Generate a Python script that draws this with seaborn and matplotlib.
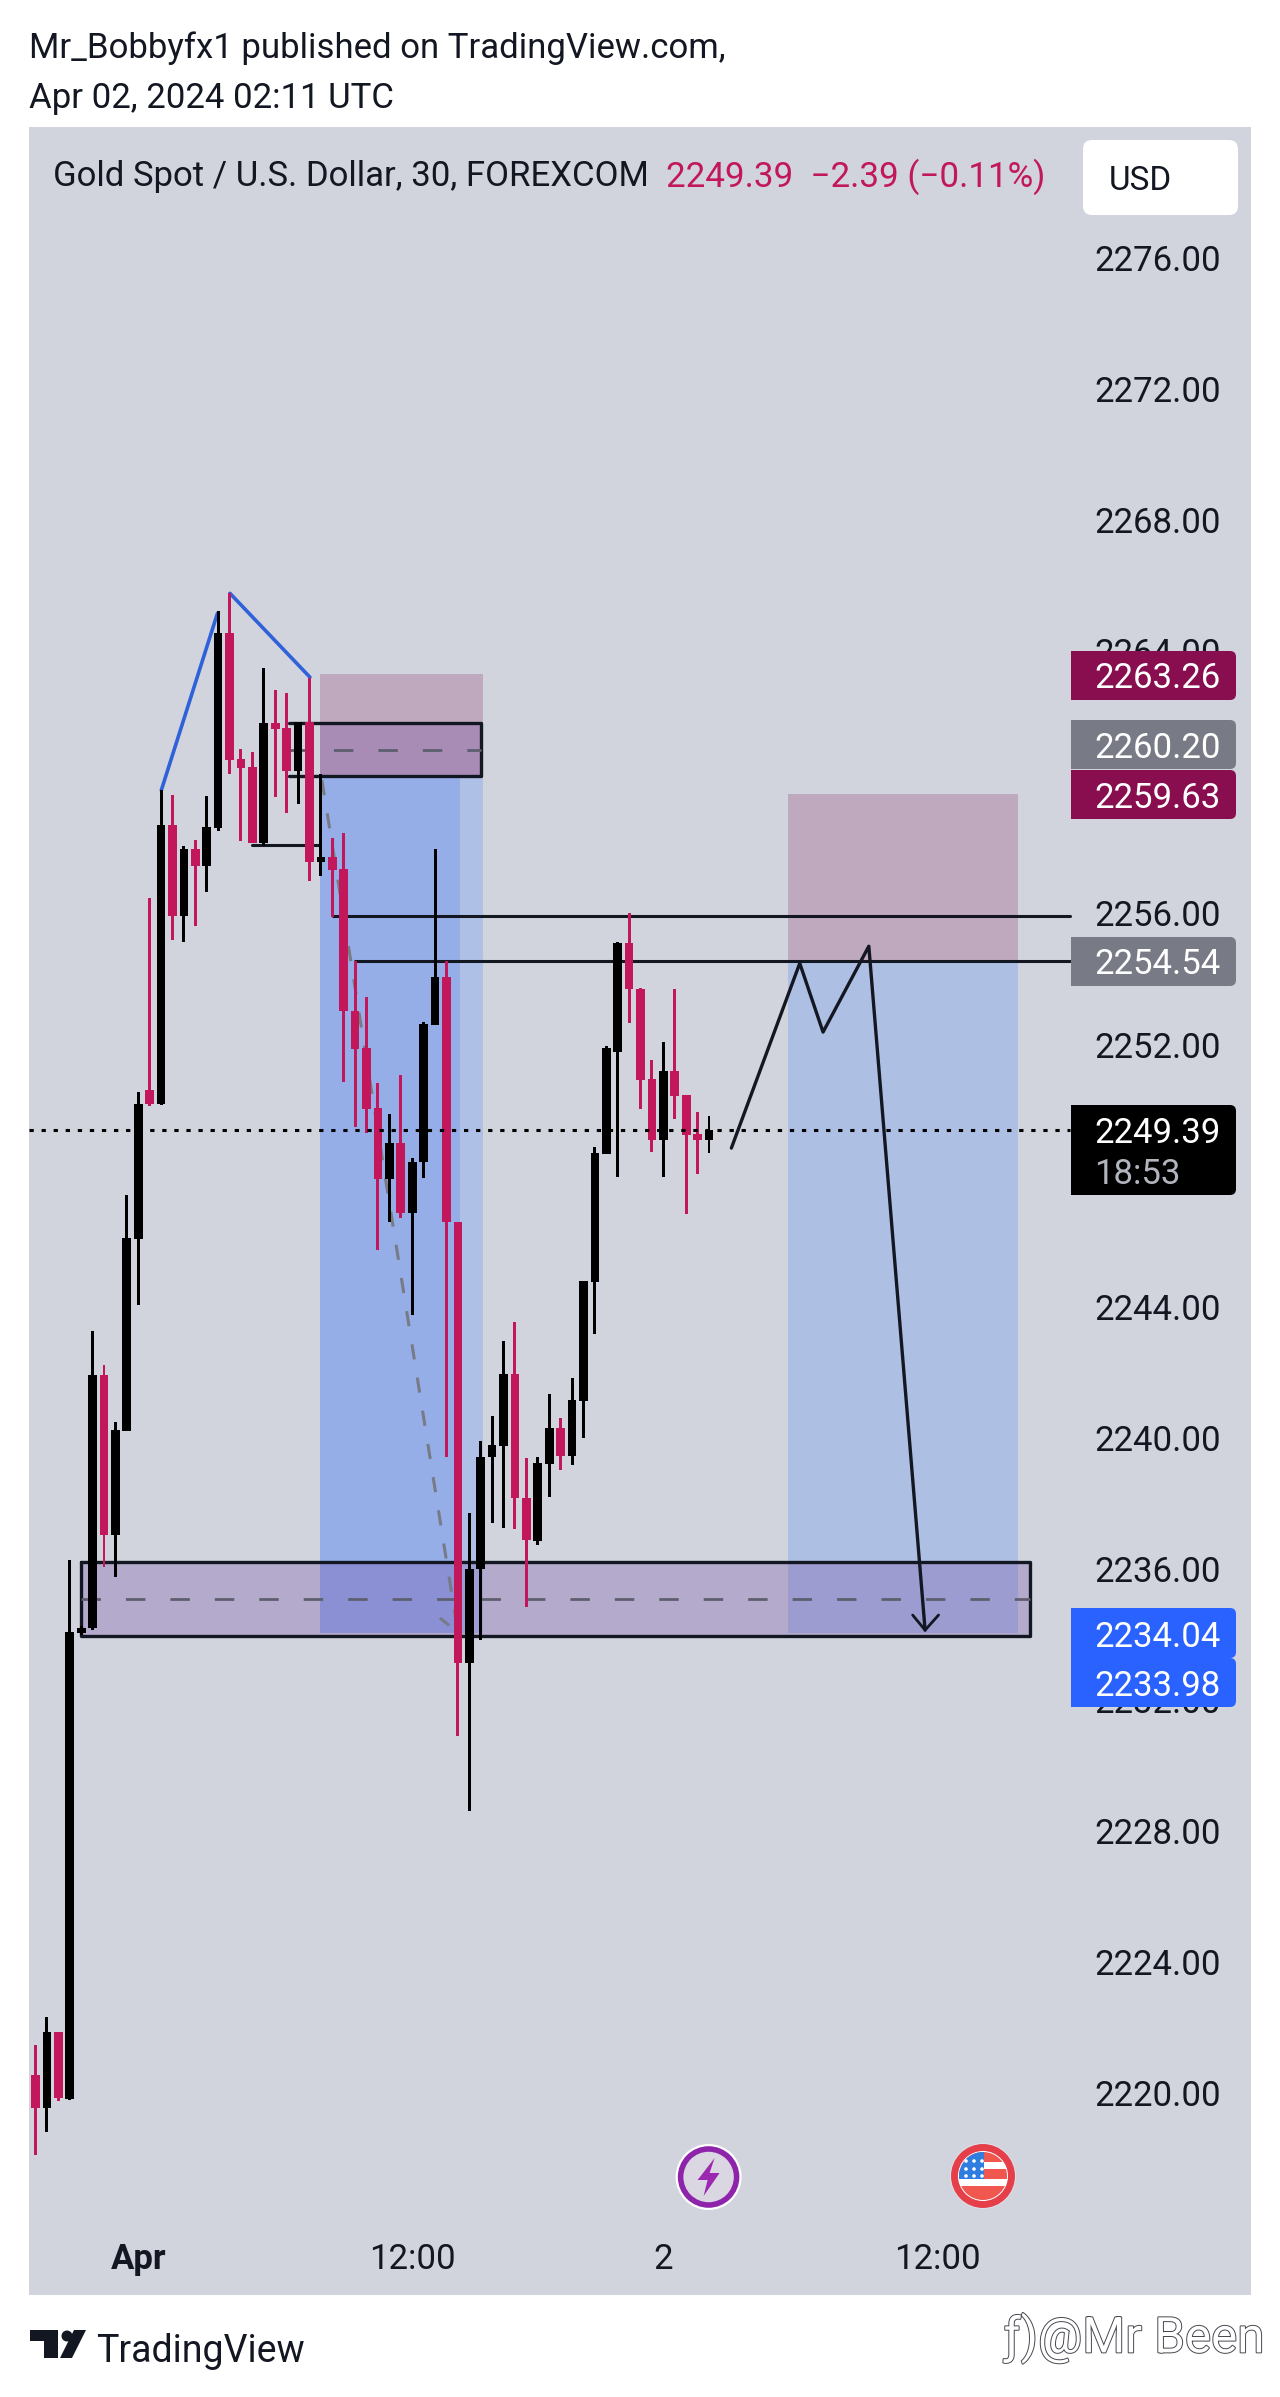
import numpy as np
import matplotlib
matplotlib.use('Agg')
import matplotlib.pyplot as plt
from matplotlib.patches import Circle, FancyBboxPatch, Polygon, Rectangle
import matplotlib.patheffects as pe
import seaborn as sns

# candle data (30 min bars, one entry per bar)
wick_high = [2221.47, 2222.32, 2221.86, 2236.27, 2234.25, 2243.25, 2242.22, 2240.48, 2247.40, 2250.55,
             2256.47, 2259.76, 2259.61, 2258.05, 2258.24, 2259.58, 2265.22, 2265.77, 2261.01, 2260.92,
             2263.49, 2262.81, 2262.72, 2261.84, 2263.18, 2260.25, 2258.30, 2258.45, 2254.54, 2253.45,
             2250.82, 2249.87, 2251.07, 2248.53, 2252.68, 2257.96, 2254.54, 2246.58, 2237.70, 2239.90,
             2240.66, 2242.95, 2243.53, 2239.38, 2239.41, 2241.33, 2240.60, 2241.82, 2244.78, 2248.87,
             2251.95, 2255.12, 2256.01, 2253.72, 2251.52, 2252.07, 2253.69, 2250.45, 2249.94, 2249.81]
body_top = [2220.55, 2221.86, 2221.86, 2234.07, 2234.19, 2241.91, 2241.91, 2240.23, 2246.09, 2250.18,
            2250.61, 2258.69, 2258.69, 2257.96, 2257.96, 2258.63, 2264.55, 2264.55, 2260.71, 2260.46,
            2261.81, 2261.81, 2261.65, 2261.84, 2261.84, 2257.72, 2257.72, 2257.35, 2253.02, 2251.89,
            2250.06, 2248.99, 2248.99, 2248.41, 2252.62, 2254.06, 2254.06, 2246.58, 2235.99, 2239.41,
            2239.77, 2241.94, 2241.94, 2238.16, 2239.23, 2240.29, 2240.29, 2241.15, 2244.78, 2248.68,
            2251.89, 2255.09, 2255.09, 2253.69, 2250.94, 2251.19, 2251.19, 2250.45, 2249.26, 2249.39]
body_bottom = [2219.54, 2219.54, 2219.85, 2219.82, 2234.04, 2234.19, 2237.03, 2237.03, 2240.20, 2246.06,
               2250.18, 2250.18, 2255.92, 2255.92, 2257.44, 2257.44, 2258.60, 2260.68, 2260.43, 2258.14,
               2258.14, 2261.62, 2260.34, 2260.34, 2257.57, 2257.57, 2257.32, 2253.02, 2251.86, 2250.03,
               2247.89, 2247.89, 2246.85, 2246.85, 2248.41, 2252.59, 2246.58, 2233.12, 2233.12, 2235.99,
               2239.41, 2239.74, 2238.16, 2236.88, 2236.85, 2239.20, 2239.44, 2239.44, 2241.12, 2244.75,
               2248.65, 2251.77, 2253.69, 2250.91, 2249.08, 2249.08, 2250.42, 2249.23, 2249.08, 2249.08]
wick_low = [2218.11, 2218.81, 2219.76, 2219.79, 2233.98, 2234.13, 2236.05, 2235.75, 2240.20, 2244.05,
            2250.12, 2250.15, 2255.18, 2255.12, 2255.61, 2256.65, 2258.51, 2260.25, 2258.21, 2258.14,
            2258.05, 2259.55, 2259.06, 2259.33, 2256.99, 2257.14, 2255.89, 2250.85, 2249.48, 2249.30,
            2245.72, 2246.58, 2246.70, 2243.74, 2247.92, 2252.59, 2239.41, 2230.89, 2228.61, 2233.82,
            2237.39, 2237.24, 2237.21, 2234.83, 2236.72, 2238.19, 2239.01, 2239.16, 2239.99, 2243.16,
            2248.65, 2247.95, 2252.65, 2250.03, 2248.72, 2247.95, 2249.72, 2246.82, 2248.04, 2248.68]
bar_side = list('rkrkkkrkkk' 'rkrkrkkrrr' 'krrkrkrrrr' 'rkrkkkrrkk' 'kkrrkkrkkk' 'kkrrrkrrrk')

# axis labels
price_ticks = [2276, 2272, 2268, 2264, 2260, 2256, 2252, 2248, 2244, 2240, 2236, 2232, 2228, 2224, 2220]
time_ticks = [9, 33, 55, 79]
time_labels = ['Apr', '12:00', '2', '12:00']

# drawings on the chart, bar index / price
short1_bars = [24.91, 39.16]
short1_inner_end = 37.17
short1_prices = [2263.30, 2260.18, 2234.04]
short2_bars = [65.89, 86.03]
short2_prices = [2259.65, 2254.54, 2234.04]
zone_top_bars = [22.2, 39.07]
zone_top_fill_start = 24.91
zone_top_prices = [2261.81, 2260.98, 2260.20]
zone_low_bars = [3.98, 87.15]
zone_low_prices = [2236.20, 2235.08, 2233.95]
level_prices = [2255.92, 2254.54, 2258.08]
level_starts = [26.02, 28.0, 18.93]
level_ends = [90.65, 90.65, 24.9]
last_price = 2249.39
blue_a_x, blue_a_y = [11.02, 15.94], [2259.76, 2265.16]
blue_b_x, blue_b_y = [17.03, 24.04], [2265.77, 2263.21]
trend_x, trend_y = [25.09, 37.0, 35.42], [2260.07, 2234.07, 2234.50]
path_x = [60.96, 66.95, 68.99, 73.0, 77.93]
path_y = [2248.84, 2254.48, 2252.38, 2255.0, 2234.13]
head_x, head_y = [76.84, 77.93, 79.11], [2234.59, 2234.13, 2234.59]

# price tags on the scale
tag_texts = ['2263.26', '2260.20', '2259.63', '2254.54', '2234.04', '2233.98']
tag_colors = ['#880E4F', '#787B86', '#880E4F', '#787B86', '#2962FF', '#2962FF']
tag_tops = [651, 720, 770, 937, 1608, 1658]
tag_bottoms = [700, 769, 819, 986, 1658, 1707]

BG = '#D1D4DC'
INK = '#131722'
RED = '#C2185B'
W, H = 1280, 2397
FS = 25.0

sns.set_theme(style='white')
plt.rcParams['font.family'] = ['Roboto', 'DejaVu Sans']

fig = plt.figure(figsize=(W / 100, H / 100), dpi=100, facecolor='white')
ax = fig.add_axes([29 / W, 1 - 2295 / H, 1222 / W, 2168 / H], facecolor=BG)


def draw_path(xs, ys, color=INK, lw=2.0, ls='-', z=2):
    sns.lineplot(x=xs, y=ys, sort=False, estimator=None, color=color, linewidth=lw,
                 linestyle=ls, zorder=z, ax=ax, legend=False)


# position boxes
ax.fill_between(short1_bars, short1_prices[1], short1_prices[0], color='#BFA9BE', lw=0, zorder=1)
ax.fill_between(short1_bars, short1_prices[2], short1_prices[1], color='#AEC0E6', lw=0, zorder=1)
ax.fill_between([short1_bars[0], short1_inner_end], short1_prices[2], short1_prices[1], color='#96AEE8', lw=0, zorder=1)
ax.fill_between(short2_bars, short2_prices[1], short2_prices[0], color='#BFA9BE', lw=0, zorder=1)
ax.fill_between(short2_bars, short2_prices[2], short2_prices[1], color='#AEBFE4', lw=0, zorder=1)

# zones
ax.fill_between([zone_top_fill_start, zone_top_bars[1]], zone_top_prices[2], zone_top_prices[0],
                color='#744CA6', alpha=0.3, lw=0, zorder=1.2)
ax.fill_between(zone_low_bars, zone_low_prices[2], zone_low_prices[0],
                color='#744CA6', alpha=0.3, lw=0, zorder=1.2)
draw_path([zone_top_bars[0], zone_top_bars[1], zone_top_bars[1], zone_top_bars[0]],
          [zone_top_prices[0], zone_top_prices[0], zone_top_prices[2], zone_top_prices[2]], lw=2.4)
draw_path([zone_low_bars[0], zone_low_bars[1], zone_low_bars[1], zone_low_bars[0], zone_low_bars[0]],
          [zone_low_prices[0], zone_low_prices[0], zone_low_prices[2], zone_low_prices[2], zone_low_prices[0]], lw=2.4)
dash = (0, (7, 9))
draw_path(zone_top_bars, [zone_top_prices[1]] * 2, color='#5D5F6E', lw=2.0, ls=dash)
draw_path(zone_low_bars, [zone_low_prices[1]] * 2, color='#5D5F6E', lw=2.0, ls=dash)

for p, a, b in zip(level_prices, level_starts, level_ends):
    draw_path([a, b], [p, p], lw=2.2)

draw_path(trend_x, trend_y, color='#787B86', lw=2.2, ls=(0, (5, 6)))
draw_path(blue_a_x, blue_a_y, color='#2F62D9', lw=2.6)
draw_path(blue_b_x, blue_b_y, color='#2F62D9', lw=2.6)
draw_path(path_x, path_y, lw=2.4, z=2.5)
draw_path(head_x, head_y, lw=2.0, z=2.5)

# candles: wicks first, then bodies
bar_idx = np.arange(len(bar_side))
hi, top, bot, lo = map(np.array, (wick_high, body_top, body_bottom, wick_low))
for side, col in [('r', RED), ('k', '#000000')]:
    m = np.array(bar_side) == side
    sns.barplot(x=bar_idx[m], y=hi[m] - lo[m], bottom=lo[m], native_scale=True, width=0.26,
                color=col, saturation=1, errorbar=None, linewidth=0, zorder=3, ax=ax)
    sns.barplot(x=bar_idx[m], y=top[m] - bot[m], bottom=bot[m], native_scale=True, width=0.76,
                color=col, saturation=1, errorbar=None, linewidth=0, zorder=3.2, ax=ax)

draw_path([-0.6, 90.65], [last_price, last_price], color='#000000', lw=2.2, ls=(0, (1.4, 2.55)), z=4)

ax.set_xlim(-0.57, 106.48)
ax.set_ylim(2213.84, 2280.0)
ax.set_xlabel('')
ax.set_ylabel('')
for s in ax.spines.values():
    s.set_visible(False)
ax.grid(False)
ax.set_yticks(price_ticks)
ax.set_yticklabels([f'{p:.2f}' for p in price_ticks])
ax.tick_params(axis='y', left=False, right=False, labelleft=False, labelright=True,
               length=0, pad=-113, labelsize=FS, labelcolor=INK)
ax.set_xticks(time_ticks)
ax.set_xticklabels(time_labels)
ax.tick_params(axis='x', bottom=False, length=0, pad=-37.5, labelsize=FS, labelcolor=INK)
ax.get_xticklabels()[0].set_fontweight('bold')

# everything outside the price/time scales sits on a pixel overlay
ov = fig.add_axes([0, 0, 1, 1], facecolor='none', zorder=10)
ov.set_xlim(0, W)
ov.set_ylim(H, 0)
ov.axis('off')


def tag(y0, y1, color):
    x0, x1 = 1071, 1236
    ov.add_patch(FancyBboxPatch((x0 + 6, y0 + 6), x1 - x0 - 12, y1 - y0 - 12,
                                boxstyle='round,pad=6,rounding_size=6', fc=color, ec='none', zorder=2))
    ov.add_patch(Rectangle((x0, y0), 40, y1 - y0, fc=color, ec='none', zorder=2))


for txt, col, y0, y1 in zip(tag_texts[:4], tag_colors[:4], tag_tops[:4], tag_bottoms[:4]):
    tag(y0, y1, col)
    ov.text(1094, (y0 + y1) / 2, txt, color='white', fontsize=FS, va='center_baseline', ha='left', zorder=3)
for txt, col, y0, y1 in zip(tag_texts[4:], tag_colors[4:], tag_tops[4:], tag_bottoms[4:]):
    tag(y0, y1, col)
    ov.text(1094, (y0 + y1) / 2 + 1, txt, color='white', fontsize=FS, va='center_baseline', ha='left', zorder=3)
tag(1105, 1195, '#000000')
ov.text(1094, 1130, f'{last_price:.2f}', color='white', fontsize=FS, va='center_baseline', zorder=3)
ov.text(1094, 1171, '18:53', color='#B2B5BE', fontsize=FS, va='center_baseline', zorder=3)

# header
ov.text(29, 45, 'Mr_Bobbyfx1 published on TradingView.com,', color=INK, fontsize=25, va='center_baseline')
ov.text(29, 95, 'Apr 02, 2024 02:11 UTC', color=INK, fontsize=25, va='center_baseline')
ov.text(53, 173, 'Gold Spot / U.S. Dollar, 30, FOREXCOM', color=INK, fontsize=25, va='center_baseline')
ov.text(666, 173, '2249.39  \u22122.39 (\u22120.11%)', color=RED, fontsize=25.2, va='center_baseline')
ov.add_patch(FancyBboxPatch((1091, 148), 139, 59, boxstyle='round,pad=8,rounding_size=9', fc='white', ec='none'))
ov.text(1109, 177, 'USD', color=INK, fontsize=24, va='center_baseline')

# event icons
cx, cy = 708.6, 2177
ov.add_patch(Circle((cx, cy), 33, fc='white', ec='none'))
ov.add_patch(Circle((cx, cy), 28, fc='#DAD7E2', ec='#8E24AA', lw=4))
ov.add_patch(Polygon([[cx + 6, cy - 19], [cx - 11, cy + 3], [cx - 1, cy + 3], [cx - 5, cy + 19],
                      [cx + 11, cy - 4], [cx + 1, cy - 4]], fc='#9C27B0', ec='none'))

fx, fy = 983, 2176
ov.add_patch(Circle((fx, fy), 33, fc='#E0E0E8', ec='none'))
ov.add_patch(Circle((fx, fy), 28.5, fc='white', ec='#E5404A', lw=5))
clip = Circle((fx, fy), 24, transform=ov.transData, fc='none', ec='none')
ov.add_patch(clip)
for sy, sh in [(-24, 10), (-7, 10), (10, 16)]:
    r = Rectangle((fx - 24, fy + sy), 48, sh, fc='#F0584F', ec='none')
    ov.add_patch(r)
    r.set_clip_path(clip)
canton = Rectangle((fx - 24, fy - 24), 25, 27, fc='#2F7DE1', ec='none')
ov.add_patch(canton)
canton.set_clip_path(clip)
for sx in (-17, -9, -1):
    for sy in (-15, -7, 0):
        ov.add_patch(Circle((fx + sx, fy + sy), 1.8, fc='white', ec='none'))

# footer logo and watermark
ov.add_patch(Polygon([[30, 2330], [58, 2330], [58, 2358], [44, 2358], [44, 2341], [30, 2341]], fc='#131722', ec='none'))
ov.add_patch(Circle((67, 2336), 5.5, fc='#131722', ec='none'))
ov.add_patch(Polygon([[74, 2330], [86, 2330], [72, 2358], [60, 2358]], fc='#131722', ec='none'))
ov.text(96, 2347, 'TradingView', color=INK, fontsize=27, va='center_baseline')
ov.text(1004, 2333, '\u0192)@Mr Been', color='white', fontsize=35.5, va='center_baseline',
        path_effects=[pe.withStroke(linewidth=1.4, foreground='#45484F')])

fig.savefig('out.png', dpi=100)
